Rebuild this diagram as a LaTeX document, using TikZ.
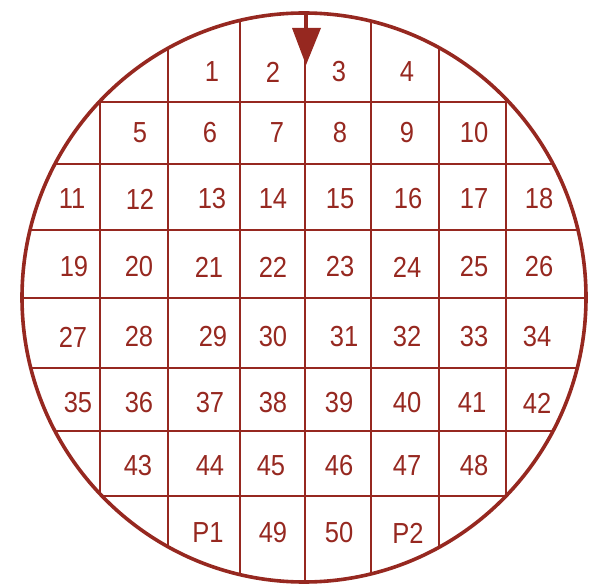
\documentclass[tikz,border=0pt]{standalone}
\usepackage{fontspec}
\newfontfamily\numfont[FakeStretch=0.88]{Liberation Sans}
\definecolor{wred}{RGB}{150,40,32}
\begin{document}
\begin{tikzpicture}[x=1pt,y=-1pt,
  lbl/.style={text=wred,font=\numfont\fontsize{29}{29}\selectfont,inner sep=0pt,anchor=center},
  gridline/.style={draw=wred,line width=1.1pt},
  rim/.style={draw=wred,line width=3.6pt}]
\useasboundingbox (0,0) rectangle (589,585);
\begin{scope}
  \clip (304,297.5) ellipse (282 and 284.5);
  \foreach \x in {100,168,240,305,371,439,506}
    \draw[gridline] (\x,0) -- (\x,585);
  \foreach \y in {102,164,230,298,368,431,496}
    \draw[gridline] (0,\y) -- (589,\y);
\end{scope}
\draw[rim] (304,297.5) ellipse (282 and 284.5);
% orientation arrow
\coordinate (stemtop) at (306,13);
\coordinate (stembot) at (306,30);
\draw[wred,line width=3.2pt] (stemtop) -- (stembot);
\fill[wred] (292,28) -- (321,28) -- (306,65) -- cycle;
% labels
\foreach \t/\x/\y in {
  1/212/72, 2/273/72, 3/339/72, 4/407/72,
  5/140/133, 6/210/133, 7/277/133, 8/340/133, 9/407/133, 10/474/133,
  11/72/199, 12/140/199, 13/212/199, 14/273/199, 15/340/199, 16/408/199, 17/474/199, 18/539/199,
  19/74/267, 20/139/267, 21/209/267, 22/273/267, 23/340/267, 24/407/267, 25/474/267, 26/539/267,
  27/73/337, 28/139/337, 29/213/337, 30/273/337, 31/344/337, 32/407/337, 33/474/337, 34/537/337,
  35/78/403, 36/139/403, 37/210/403, 38/273/403, 39/339/403, 40/407/403, 41/472/403, 42/537/403,
  43/138/466, 44/210/466, 45/271/466, 46/339/466, 47/407/466, 48/474/466,
  P1/208/533, 49/273/533, 50/339/533, P2/408/533}
  \node[lbl] (n\t) at (\x,\y) {\t};
\end{tikzpicture}
\end{document}
